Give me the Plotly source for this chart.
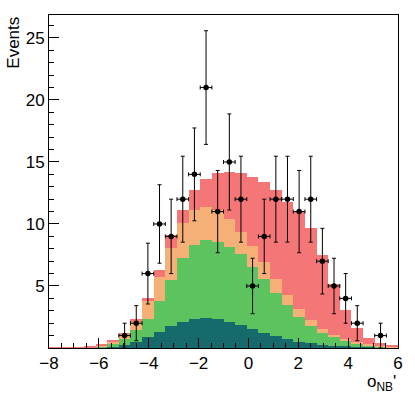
import plotly.graph_objects as go

# 30 bins from -8 to 6
bin_lo = -8.0
bin_hi = 6.0
n_bins = 30
bin_w = (bin_hi - bin_lo) / n_bins
centers = [bin_lo + bin_w * (i + 0.5) for i in range(n_bins)]

# stacked MC components (bottom -> top), events per bin
bkg_teal = [0.00, 0.00, 0.01, 0.02, 0.04, 0.10, 0.24, 0.51, 0.85, 1.32,
            1.75, 2.10, 2.30, 2.40, 2.33, 2.12, 1.88, 1.55, 1.25, 0.97,
            0.73, 0.51, 0.38, 0.27, 0.19, 0.13, 0.08, 0.05, 0.03, 0.02]
bkg_green = [0.00, 0.01, 0.01, 0.03, 0.06, 0.20, 0.45, 0.94, 1.46, 2.47,
             3.73, 5.13, 6.00, 6.31, 6.25, 6.00, 5.70, 5.01, 4.35, 3.49,
             2.73, 2.01, 1.42, 0.97, 0.67, 0.46, 0.30, 0.19, 0.13, 0.06]
bkg_orange = [0.00, 0.01, 0.02, 0.03, 0.08, 0.21, 0.33, 0.65, 1.48, 1.91,
              2.61, 2.82, 2.83, 2.63, 2.55, 2.28, 1.80, 1.64, 1.36, 1.10,
              0.81, 0.63, 0.46, 0.29, 0.18, 0.14, 0.08, 0.06, 0.03, 0.02]
sig_red = [0.02, 0.01, 0.02, 0.04, 0.07, 0.14, 0.22, 0.24, 0.27, 0.60,
           1.02, 1.08, 1.61, 2.26, 2.96, 3.80, 4.71, 5.62, 6.40, 7.14,
           7.53, 7.85, 7.39, 5.97, 4.16, 2.33, 1.13, 0.48, 0.19, 0.14]

# observed data counts per bin
data_counts = [0, 0, 0, 0, 0, 0, 1, 2, 6, 10,
               9, 12, 14, 21, 11, 15, 12, 5, 9, 12,
               12, 11, 12, 7, 5, 4, 2, 0, 1, 0]

stack = [
    (bkg_teal, "#176a6b"),
    (bkg_green, "#5cc35f"),
    (bkg_orange, "#f5b078"),
    (sig_red, "#f57676"),
]

fig = go.Figure()
for vals, col in stack:
    fig.add_trace(go.Bar(
        x=centers, y=vals, width=bin_w,
        marker=dict(color=col, line=dict(width=0)),
        showlegend=False, hoverinfo="skip",
    ))

dx = [c for c, n in zip(centers, data_counts) if n > 0]
dy = [n for n in data_counts if n > 0]
fig.add_trace(go.Scatter(
    x=dx, y=dy, mode="markers",
    marker=dict(color="black", size=5.5),
    error_y=dict(type="data", array=[n ** 0.5 for n in dy], color="black", thickness=1, width=2),
    error_x=dict(type="constant", value=bin_w / 2, color="black", thickness=1, width=2),
    showlegend=False,
))

font = dict(family="Liberation Sans, Arial, sans-serif", size=17, color="black")

fig.update_layout(
    width=415, height=395,
    margin=dict(l=49, r=17, t=15, b=47),
    barmode="stack", bargap=0,
    plot_bgcolor="white", paper_bgcolor="white",
    font=font,
    xaxis=dict(
        range=[bin_lo, bin_hi], showgrid=False, zeroline=False,
        showline=True, linecolor="black", linewidth=1, mirror=True,
        tickvals=[-8, -6, -4, -2, 0, 2, 4, 6],
        ticks="inside", ticklen=10, tickcolor="black",
        minor=dict(ticks="inside", ticklen=5, dtick=0.5, tick0=0, tickcolor="black"),
        tickfont=font,
    ),
    yaxis=dict(
        range=[0, 26.85], showgrid=False, zeroline=False,
        showline=True, linecolor="black", linewidth=1, mirror=True,
        tickvals=[5, 10, 15, 20, 25],
        ticks="inside", ticklen=10, tickcolor="black",
        minor=dict(ticks="inside", ticklen=5, dtick=1, tick0=0, tickcolor="black"),
        tickfont=font,
    ),
    annotations=[
        dict(text="Events", x=-0.137, y=1.0, xref="paper", yref="paper",
             xanchor="left", yanchor="top", textangle=-90, showarrow=False, font=font),
        dict(text="o<sub>NB</sub>'", x=1.0, y=-0.066, xref="paper", yref="paper",
             xanchor="right", yanchor="top", showarrow=False, font=font),
    ],
)

fig.write_html("out.html", config={"displayModeBar": False},
               post_script="document.body.style.margin='0px';")
